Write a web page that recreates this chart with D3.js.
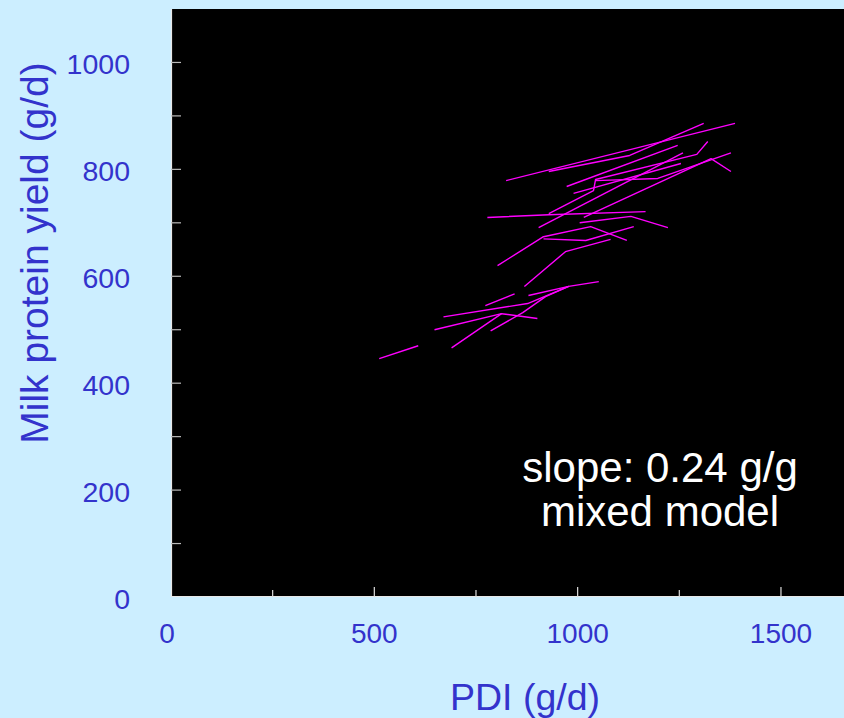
<!DOCTYPE html>
<html>
<head>
<meta charset="utf-8">
<script src="https://cdn.jsdelivr.net/npm/d3@7"></script>
<style>
  html, body { margin: 0; padding: 0; background: #cceeff; }
  svg { display: block; }
</style>
</head>
<body>
<svg id="chart" width="844" height="718"></svg>
<script>
// Within-study responses: each study is a polyline of (PDI, milk protein yield) points, g/d
const studyPDI = [
  [824, 1387],
  [929, 1128, 1310],
  [973, 1246],
  [929, 1039, 1044, 1293, 1320],
  [1044, 1197, 1377],
  [1015, 1328, 1377],
  [990, 1254],
  [904, 1259],
  [778, 929, 1167],
  [1005, 1131, 1222],
  [803, 916, 1032, 1121],
  [916, 1020, 1138],
  [869, 970, 1081],
  [512, 608],
  [773, 845],
  [670, 877, 978, 1052],
  [879, 978],
  [648, 813, 901],
  [690, 813],
  [786, 865, 921, 978]
];
const studyYield = [
  [779, 886],
  [796, 826, 886],
  [768, 845],
  [717, 760, 781, 828, 852],
  [779, 783, 831],
  [710, 820, 796],
  [755, 811],
  [691, 831],
  [710, 715, 721],
  [700, 712, 691],
  [620, 674, 693, 667],
  [670, 667, 693],
  [581, 646, 669],
  [446, 470],
  [545, 567],
  [524, 549, 581, 590],
  [564, 581],
  [500, 530, 521],
  [466, 530],
  [498, 532, 562, 581]
];

const xMajorTicks = [0, 500, 1000, 1500];
const xMinorTicks = [250, 750, 1250];
const yLabelTicks = [0, 200, 400, 600, 800, 1000];
const yAllTicks = [100, 200, 300, 400, 500, 600, 700, 800, 900, 1000];

const xTitle = "PDI (g/d)";
const yTitle = "Milk protein yield (g/d)";
const noteLines = ["slope: 0.24 g/g", "mixed model"];

const textBlue = "#3333cc";
const font = "'Liberation Sans', Arial, sans-serif";

const svg = d3.select("#chart");

const x = d3.scaleLinear().domain([0, 1655]).range([171, 844]);
const y = d3.scaleLinear().domain([0, 1100]).range([597, 9]);

// plot panel
svg.append("rect")
  .attr("x", x(0)).attr("y", y(1100))
  .attr("width", x(1655) - x(0)).attr("height", y(0) - y(1100))
  .attr("fill", "#000");

// axis lines along the left and bottom edges
svg.append("line")
  .attr("x1", x(0) + 0.5).attr("x2", x(0) + 0.5)
  .attr("y1", y(1100)).attr("y2", y(0))
  .attr("stroke", "#e8e8e8").attr("stroke-width", 1.2);
svg.append("line")
  .attr("x1", x(0)).attr("x2", x(1655))
  .attr("y1", y(0) - 0.5).attr("y2", y(0) - 0.5)
  .attr("stroke", "#e8e8e8").attr("stroke-width", 1.2);

// inward ticks
svg.selectAll(".ytick").data(yAllTicks).join("line")
  .attr("class", "ytick")
  .attr("x1", x(0)).attr("x2", x(0) + 10)
  .attr("y1", d => y(d)).attr("y2", d => y(d))
  .attr("stroke", "#bbbbbb").attr("stroke-width", 1.2);
svg.selectAll(".xtick").data(xMajorTicks.filter(d => d > 0)).join("line")
  .attr("class", "xtick")
  .attr("x1", d => x(d)).attr("x2", d => x(d))
  .attr("y1", y(0)).attr("y2", y(0) - 10)
  .attr("stroke", "#dddddd").attr("stroke-width", 1.2);
svg.selectAll(".xmtick").data(xMinorTicks).join("line")
  .attr("class", "xmtick")
  .attr("x1", d => x(d)).attr("x2", d => x(d))
  .attr("y1", y(0)).attr("y2", y(0) - 7)
  .attr("stroke", "#dddddd").attr("stroke-width", 1.2);

// tick labels
svg.selectAll(".ylab").data(yLabelTicks).join("text")
  .attr("class", "ylab")
  .attr("x", 130).attr("y", d => y(d) + 12)
  .attr("text-anchor", "end")
  .attr("font-family", font).attr("font-size", 28.5)
  .attr("fill", textBlue)
  .text(d => d);
svg.selectAll(".xlab").data(xMajorTicks).join("text")
  .attr("class", "xlab")
  .attr("x", d => x(d) - (d === 0 ? 4 : 0)).attr("y", 643)
  .attr("text-anchor", "middle")
  .attr("font-family", font).attr("font-size", 28)
  .attr("fill", textBlue)
  .text(d => d);

// axis titles
svg.append("text")
  .attr("x", 525).attr("y", 710)
  .attr("text-anchor", "middle")
  .attr("font-family", font).attr("font-size", 37.5)
  .attr("fill", textBlue)
  .text(xTitle);
svg.append("text")
  .attr("transform", "translate(48,253) rotate(-90)")
  .attr("text-anchor", "middle")
  .attr("font-family", font).attr("font-size", 39)
  .attr("fill", textBlue)
  .text(yTitle);

// study lines
const line = d3.line().x(d => x(d[0])).y(d => y(d[1]));
const studies = studyPDI.map((xs, i) => xs.map((v, j) => [v, studyYield[i][j]]));
svg.append("g").selectAll("path").data(studies).join("path")
  .attr("d", line)
  .attr("fill", "none")
  .attr("stroke", "#ff00ff")
  .attr("stroke-width", 1.4)
  .attr("stroke-linejoin", "round");

// annotation
svg.selectAll(".note").data(noteLines).join("text")
  .attr("class", "note")
  .attr("x", 660).attr("y", (d, i) => 482 + i * 44)
  .attr("text-anchor", "middle")
  .attr("font-family", font).attr("font-size", 42)
  .attr("fill", "#ffffff")
  .text(d => d);
</script>
</body>
</html>
